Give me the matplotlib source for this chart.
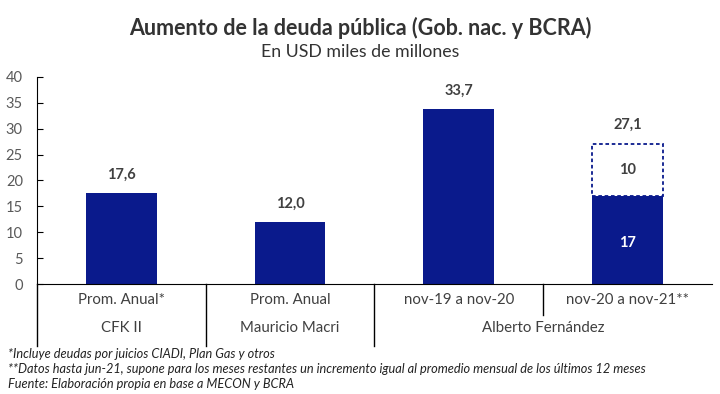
import matplotlib.pyplot as plt
from matplotlib.transforms import blended_transform_factory

plt.rcParams['font.family'] = ['Lato', 'DejaVu Sans']

# data
periodos = ["Prom. Anual*", "Prom. Anual", "nov-19 a nov-20", "nov-20 a nov-21**"]
gobiernos = ["CFK II", "Mauricio Macri", "Alberto Fernández"]
gob_span = [(0, 0), (1, 1), (2, 3)]
valores = [17.6, 12.0, 33.7, 17.0]
proyeccion = [0, 0, 0, 10.1]
etiquetas_total = ["17,6", "12,0", "33,7", "27,1"]

azul = "#0a1a8c"
gris = "#404040"

fig = plt.figure(figsize=(7.2, 3.94), dpi=100)
ax = fig.add_axes([0.051, 0.279, 0.938, 0.526])

x = list(range(len(periodos)))
w = 0.42
ax.bar(x, valores, width=w, color=azul, zorder=2)
ax.bar(x, proyeccion, width=w, bottom=valores, facecolor="white",
       edgecolor=[azul if p > 0 else "none" for p in proyeccion],
       linestyle=(0, (2, 1.5)), linewidth=1.3, zorder=2)

for i in x:
    top = valores[i] + proyeccion[i]
    ax.text(i, top + 2.2, etiquetas_total[i], ha="center", va="bottom",
            fontsize=10.5, fontweight="bold", color=gris)
    if proyeccion[i] > 0:
        ax.text(i, valores[i] / 2 - 0.5, f"{valores[i]:.0f}", ha="center", va="center",
                fontsize=10.5, fontweight="bold", color="white")
        ax.text(i, valores[i] + proyeccion[i] / 2, f"{proyeccion[i]:.0f}",
                ha="center", va="center", fontsize=10.5, fontweight="bold", color=gris)

ax.set_xlim(-0.5, 3.5)
ax.set_ylim(0, 40)
ax.set_yticks(range(0, 41, 5))
ax.tick_params(axis="y", direction="in", length=4, labelsize=10.5, labelcolor="#595959",
               pad=10)
ax.set_xticks([])
for s in ["top", "right"]:
    ax.spines[s].set_visible(False)
ax.spines["left"].set_color("black")
ax.spines["bottom"].set_color("black")

trans = blended_transform_factory(ax.transData, ax.transAxes)
# separadores
for xv in [-0.5, 0.5, 1.5]:
    ax.plot([xv, xv], [0, -0.3], color="black", lw=1, transform=trans, clip_on=False)
ax.plot([2.5, 2.5], [0, -0.15], color="black", lw=1, transform=trans, clip_on=False)

for i, p in enumerate(periodos):
    ax.text(i, -0.078, p, ha="center", va="center", fontsize=10.8, color=gris,
            transform=trans)
for g, (a, b) in zip(gobiernos, gob_span):
    ax.text((a + b) / 2, -0.21, g, ha="center", va="center", fontsize=10.8, color=gris,
            transform=trans)

fig.text(0.5, 0.93, "Aumento de la deuda pública (Gob. nac. y BCRA)", ha="center",
         va="center", fontsize=15.5, fontweight="bold", color="#333333")
fig.text(0.5, 0.868, "En USD miles de millones", ha="center", va="center",
         fontsize=12.8, color="#333333")

notas = ["*Incluye deudas por juicios CIADI, Plan Gas y otros",
         "**Datos hasta jun-21, supone para los meses restantes un incremento igual al promedio mensual de los últimos 12 meses",
         "Fuente: Elaboración propia en base a MECON y BCRA"]
for k, n in enumerate(notas):
    fig.text(0.011, 1 - (354 + 15 * k) / 394, n, ha="left", va="center",
             fontsize=9.2, style="italic", color="#222222")

fig.savefig("out.png", dpi=100)
